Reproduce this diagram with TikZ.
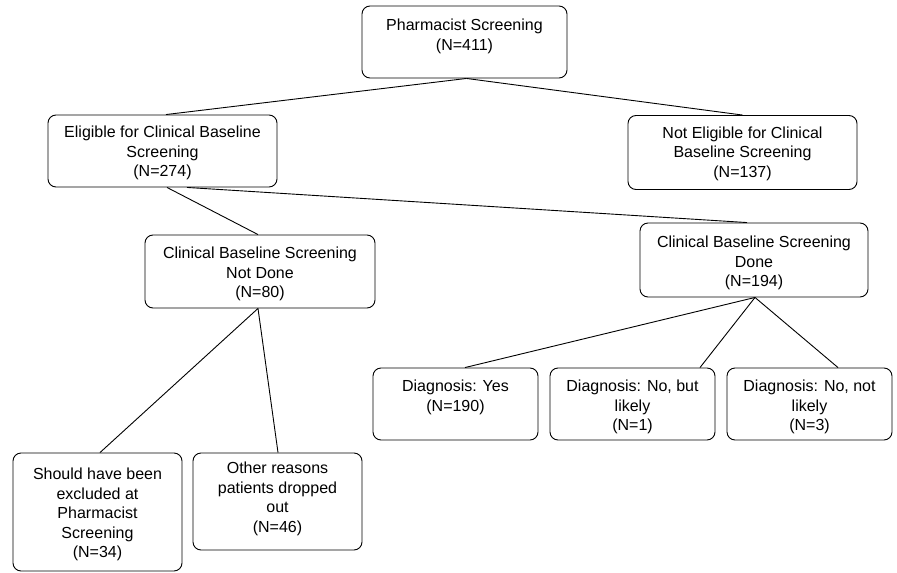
\documentclass[tikz,border=0pt]{standalone}
\usepackage{fontspec}
\setmainfont{Liberation Sans}
\newcommand{\bxt}[4][13]{\parbox[c][#3pt][t]{#2pt}{\centering\vspace*{#1pt}#4}}
\begin{document}
\begin{tikzpicture}[x=1pt,y=-1pt,
  box/.style={draw, rounded corners=8pt, inner sep=0pt, line width=0.9pt,
    font=\fontsize{16pt}{19.5pt}\selectfont},
  conn/.style={line width=0.9pt}]
\fill[white] (0,0) rectangle (897,573);
\useasboundingbox (0,0) rectangle (897,573);
\node[box] (ph) at (464.5,42) {\bxt{205}{72}{Pharmacist Screening\\(N=411)}};
\node[box] (elig) at (162.5,151) {\bxt[11]{229}{72}{Eligible for Clinical Baseline\\Screening\\(N=274)}};
\node[box] (nelig) at (742.5,152.5) {\bxt[11]{229}{74}{Not Eligible for Clinical\\Baseline Screening\\(N=137)}};
\node[box] (nd) at (260,271.5) {\bxt[12]{230}{73}{Clinical Baseline Screening\\Not Done\\(N=80)}};
\node[box] (done) at (754,260) {\bxt{228}{74}{Clinical Baseline Screening\\Done\\(N=194)}};
\node[box] (yes) at (455.5,404) {\bxt[12]{165}{72}{Diagnosis: Yes\\(N=190)}};
\node[box] (nbl) at (632.5,404) {\bxt[12]{165}{72}{Diagnosis: No, but\\likely\\(N=1)}};
\node[box] (nnl) at (809.5,404) {\bxt[12]{165}{72}{Diagnosis: No, not\\likely\\(N=3)}};
\node[box] (should) at (97.5,512) {\bxt[15]{169}{118}{Should have been\\excluded at\\Pharmacist\\Screening\\(N=34)}};
\node[box] (other) at (277.5,501.5) {\bxt[9]{169}{97}{Other reasons\\patients dropped\\out\\(N=46)}};
\draw[conn] ([xshift=2pt]ph.south) -- ([xshift=3.5pt]elig.north);
\draw[conn] ([xshift=2pt]ph.south) -- (nelig.north);
\draw[conn] ([xshift=4.5pt]elig.south) -- ([xshift=-2pt]nd.north);
\draw[conn] ([xshift=24.5pt]elig.south) -- ([xshift=-7pt]done.north);
\draw[conn] ([xshift=-2pt]nd.south) -- ([xshift=2.5pt]should.north);
\draw[conn] ([xshift=-2pt]nd.south) -- ([xshift=0.5pt]other.north);
\draw[conn] ([xshift=1pt]done.south) -- ([xshift=9.5pt]yes.north);
\draw[conn] ([xshift=1pt]done.south) -- ([xshift=67.5pt]nbl.north);
\draw[conn] ([xshift=1pt]done.south) -- ([xshift=28.5pt]nnl.north);
\end{tikzpicture}
\end{document}
